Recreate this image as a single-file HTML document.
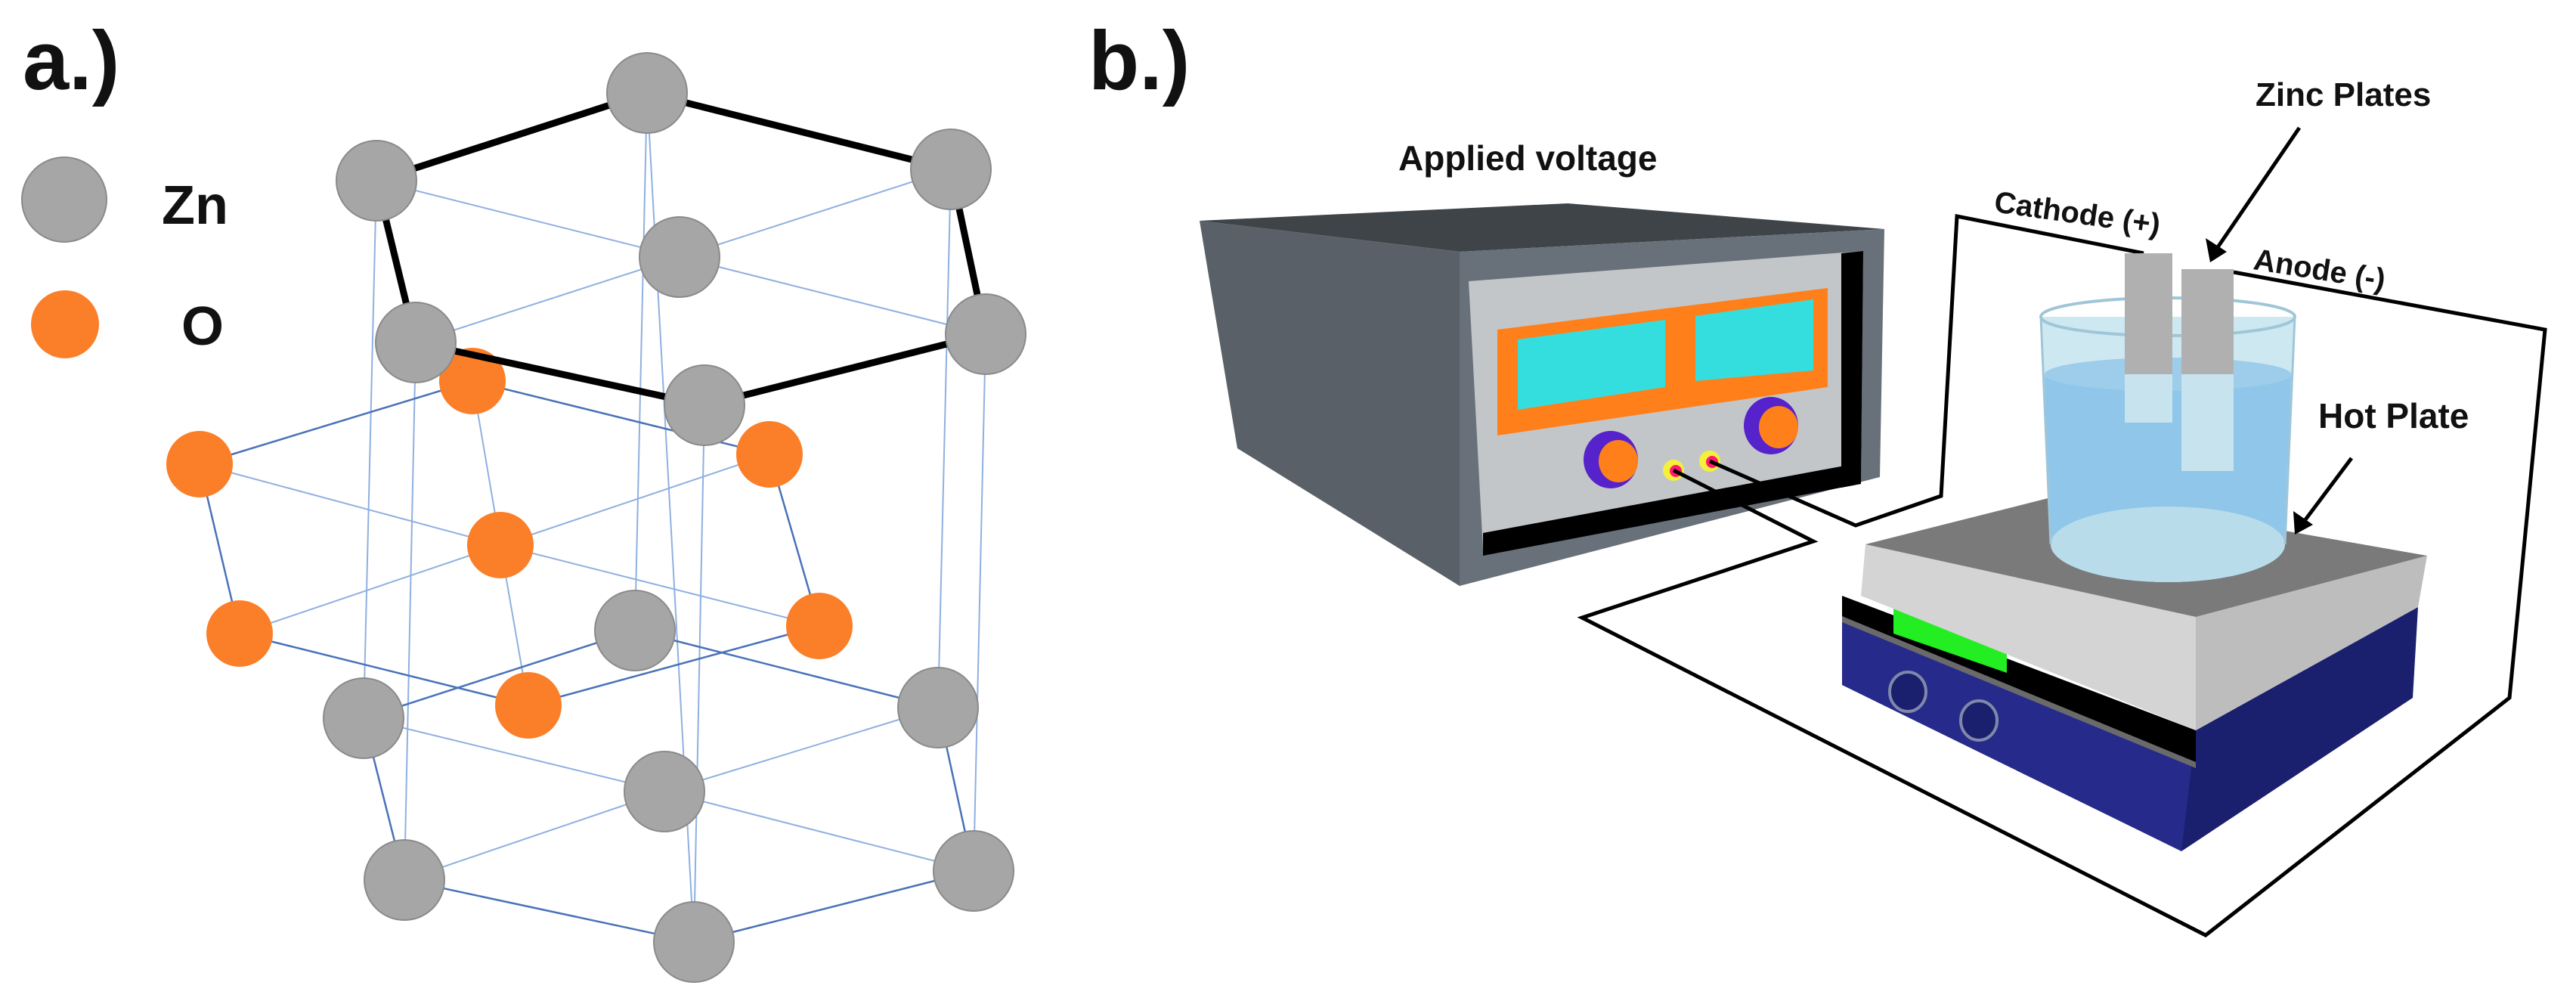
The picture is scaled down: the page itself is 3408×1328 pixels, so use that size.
<!DOCTYPE html>
<html><head><meta charset="utf-8"><style>
html,body{margin:0;padding:0;background:#fff;}
svg{display:block;}
text{font-family:"Liberation Sans",sans-serif;font-weight:bold;fill:#111;}
</style></head><body>
<svg width="3408" height="1328" viewBox="0 0 3408 1328" xmlns="http://www.w3.org/2000/svg">
<!-- Panel a -->
<text x="30" y="118" font-size="110">a.)</text>
<circle cx="85" cy="264" r="56" fill="#a6a6a6" stroke="#8a8a8a" stroke-width="2"/>
<text x="214" y="296" font-size="72">Zn</text>
<circle cx="86" cy="429" r="45" fill="#fb7f28"/>
<text x="240" y="456" font-size="72">O</text>

<g stroke="#8fb0e0" stroke-width="2" fill="none">
<!-- verticals -->
<line x1="498" y1="239" x2="481" y2="950"/>
<line x1="550" y1="453" x2="535" y2="1164"/>
<line x1="1258" y1="224" x2="1241" y2="936"/>
<line x1="1304" y1="442" x2="1288" y2="1152"/>
<line x1="856" y1="123" x2="840" y2="834"/>
<line x1="932" y1="536" x2="918" y2="1246"/>
<line x1="856" y1="123" x2="918" y2="1246"/>
<!-- top inner -->
<polyline points="498,239 899,340 1304,442"/>
<polyline points="1258,224 899,340 550,453"/>
<!-- bottom inner -->
<polyline points="481,950 879,1047 1288,1152"/>
<polyline points="1241,936 879,1047 535,1164"/>
<!-- O inner -->
<polyline points="264,614 662,721 1084,828"/>
<polyline points="1018,601 662,721 317,838"/>
<polyline points="625,504 662,721 699,933"/>
</g>
<g stroke="#4a72b8" stroke-width="2.5" fill="none">
<polygon points="840,834 481,950 535,1164 918,1246 1288,1152 1241,936"/>
<polygon points="625,504 264,614 317,838 699,933 1084,828 1018,601"/>
</g>
<g fill="#fb7f28">
<circle cx="625" cy="504" r="44"/><circle cx="264" cy="614" r="44"/>
<circle cx="1018" cy="601" r="44"/><circle cx="662" cy="721" r="44"/>
<circle cx="317" cy="838" r="44"/><circle cx="1084" cy="828" r="44"/>
<circle cx="699" cy="933" r="44"/>
</g>
<polygon points="856,123 498,239 550,453 932,536 1304,442 1258,224" fill="none" stroke="#000" stroke-width="9" stroke-linejoin="round"/>
<g fill="#a6a6a6" stroke="#8a8a8a" stroke-width="2">
<circle cx="856" cy="123" r="53"/><circle cx="498" cy="239" r="53"/>
<circle cx="1258" cy="224" r="53"/><circle cx="899" cy="340" r="53"/>
<circle cx="550" cy="453" r="53"/><circle cx="1304" cy="442" r="53"/>
<circle cx="932" cy="536" r="53"/><circle cx="840" cy="834" r="53"/>
<circle cx="481" cy="950" r="53"/><circle cx="1241" cy="936" r="53"/>
<circle cx="879" cy="1047" r="53"/><circle cx="535" cy="1164" r="53"/>
<circle cx="1288" cy="1152" r="53"/><circle cx="918" cy="1246" r="53"/>
</g>

<!-- Panel b -->
<text x="1440" y="118" font-size="110">b.)</text>
<text x="1850" y="225" font-size="46">Applied voltage</text>
<text x="2984" y="140" font-size="44">Zinc Plates</text>
<text x="2637" y="280" font-size="40" transform="rotate(8 2637 280)">Cathode (+)</text>
<text x="2980" y="356" font-size="40" transform="rotate(9 2980 356)">Anode (-)</text>
<text x="3067" y="566" font-size="46">Hot Plate</text>

<!-- power supply -->
<polygon points="1587,292 2074,269 2493,303 1931,333" fill="#3f4449"/>
<polygon points="1587,292 1931,333 1931,775 1637,593" fill="#5a6068"/>
<polygon points="1931,333 2493,303 2487,631 1931,775" fill="#687079"/>
<polygon points="1943,372 2465,332 2462,640 1962,727" fill="#c3c6c9"/>
<polygon points="2436,335 2465,332 2462,640 2436,645" fill="#000"/>
<polygon points="1962,705 2462,612 2462,640 1962,735" fill="#000"/>
<polygon points="1981,436 2418,381 2418,512 1981,576" fill="#ff7f1a"/>
<polygon points="2008,449 2203,423 2203,512 2008,542" fill="#35dede"/>
<polygon points="2243,418 2399,396 2399,490 2243,504" fill="#35dede"/>
<ellipse cx="2131" cy="608" rx="36" ry="38" fill="#5522cc"/>
<ellipse cx="2141" cy="610" rx="26" ry="28" fill="#ff7f1a"/>
<ellipse cx="2343" cy="563" rx="36" ry="38" fill="#5522cc"/>
<ellipse cx="2353" cy="565" rx="26" ry="28" fill="#ff7f1a"/>
<circle cx="2214" cy="622" r="14" fill="#f5f03a"/><circle cx="2217" cy="623" r="8" fill="#ff1a6e"/>
<circle cx="2262" cy="610" r="14" fill="#f5f03a"/><circle cx="2265" cy="611" r="8" fill="#ff1a6e"/>

<!-- wires -->
<g fill="none" stroke="#000" stroke-width="5" stroke-linejoin="miter">
<polyline points="2214,622 2399,716 2093,817 2918,1237 3320,923 3367,436 2955,360"/>
<polyline points="2262,610 2455,695 2568,656 2589,286 2836,335"/>
</g>

<!-- hot plate -->
<polygon points="2437,817 2905,1010 2886,1126 2437,906" fill="#262a8a"/>
<polygon points="2905,966 3199,803 3192,923 2886,1126" fill="#1a1f6e"/>
<polygon points="2437,788 2905,966 2905,1010 2437,823" fill="#000"/>
<polygon points="2437,815 2905,1008 2905,1016 2437,823" fill="#6a6a6a"/>
<polygon points="2505,800 2655,852 2655,890 2505,838" fill="#22ee22"/>
<ellipse cx="2524" cy="915" rx="24" ry="26" fill="#1a1f6e" stroke="#8088aa" stroke-width="4"/>
<ellipse cx="2618" cy="953" rx="24" ry="26" fill="#1a1f6e" stroke="#8088aa" stroke-width="4"/>
<polygon points="2468,720 2905,816 2905,966 2462,788" fill="#d4d4d4"/>
<polygon points="2905,816 3211,735 3199,803 2905,966" fill="#bdbdbd"/>
<polygon points="2468,720 2737,652 3211,735 2905,816" fill="#7a7a7a"/>

<!-- beaker -->
<path d="M2700,419 L2713,720 A155,50 0 0 0 3023,720 L3036,419 Z" fill="#c8e6ee" opacity="0.9"/>
<path d="M2705,495 L2713,720 A155,50 0 0 0 3023,720 L3031,495 A163,22 0 0 1 2705,495 Z" fill="#8fc6ea"/>
<ellipse cx="2868" cy="495" rx="163" ry="22" fill="#9dcdea"/>
<ellipse cx="2868" cy="720" rx="155" ry="50" fill="#b9dcea"/>
<ellipse cx="2868" cy="419" rx="168" ry="25" fill="none" stroke="#9fc6d8" stroke-width="4"/>
<rect x="2811" y="335" width="63" height="160" fill="#b0b0b0"/>
<rect x="2811" y="495" width="63" height="64" fill="#cde6ee" opacity="0.9"/>
<rect x="2886" y="356" width="69" height="139" fill="#b0b0b0"/>
<rect x="2886" y="495" width="69" height="128" fill="#cde6ee" opacity="0.9"/>
<line x1="2700" y1="419" x2="2713" y2="720" stroke="#9fc6d8" stroke-width="3"/>
<line x1="3036" y1="419" x2="3023" y2="720" stroke="#9fc6d8" stroke-width="3"/>

<!-- arrows -->
<g stroke="#000" stroke-width="5">
<line x1="3042" y1="169" x2="2932" y2="330"/>
<line x1="3111" y1="606" x2="3048" y2="690"/>
</g>
<polygon points="2924,347 2918,315 2946,333" fill="#000"/>
<polygon points="3036,707 3034,676 3060,694" fill="#000"/>
</svg>
</body></html>
